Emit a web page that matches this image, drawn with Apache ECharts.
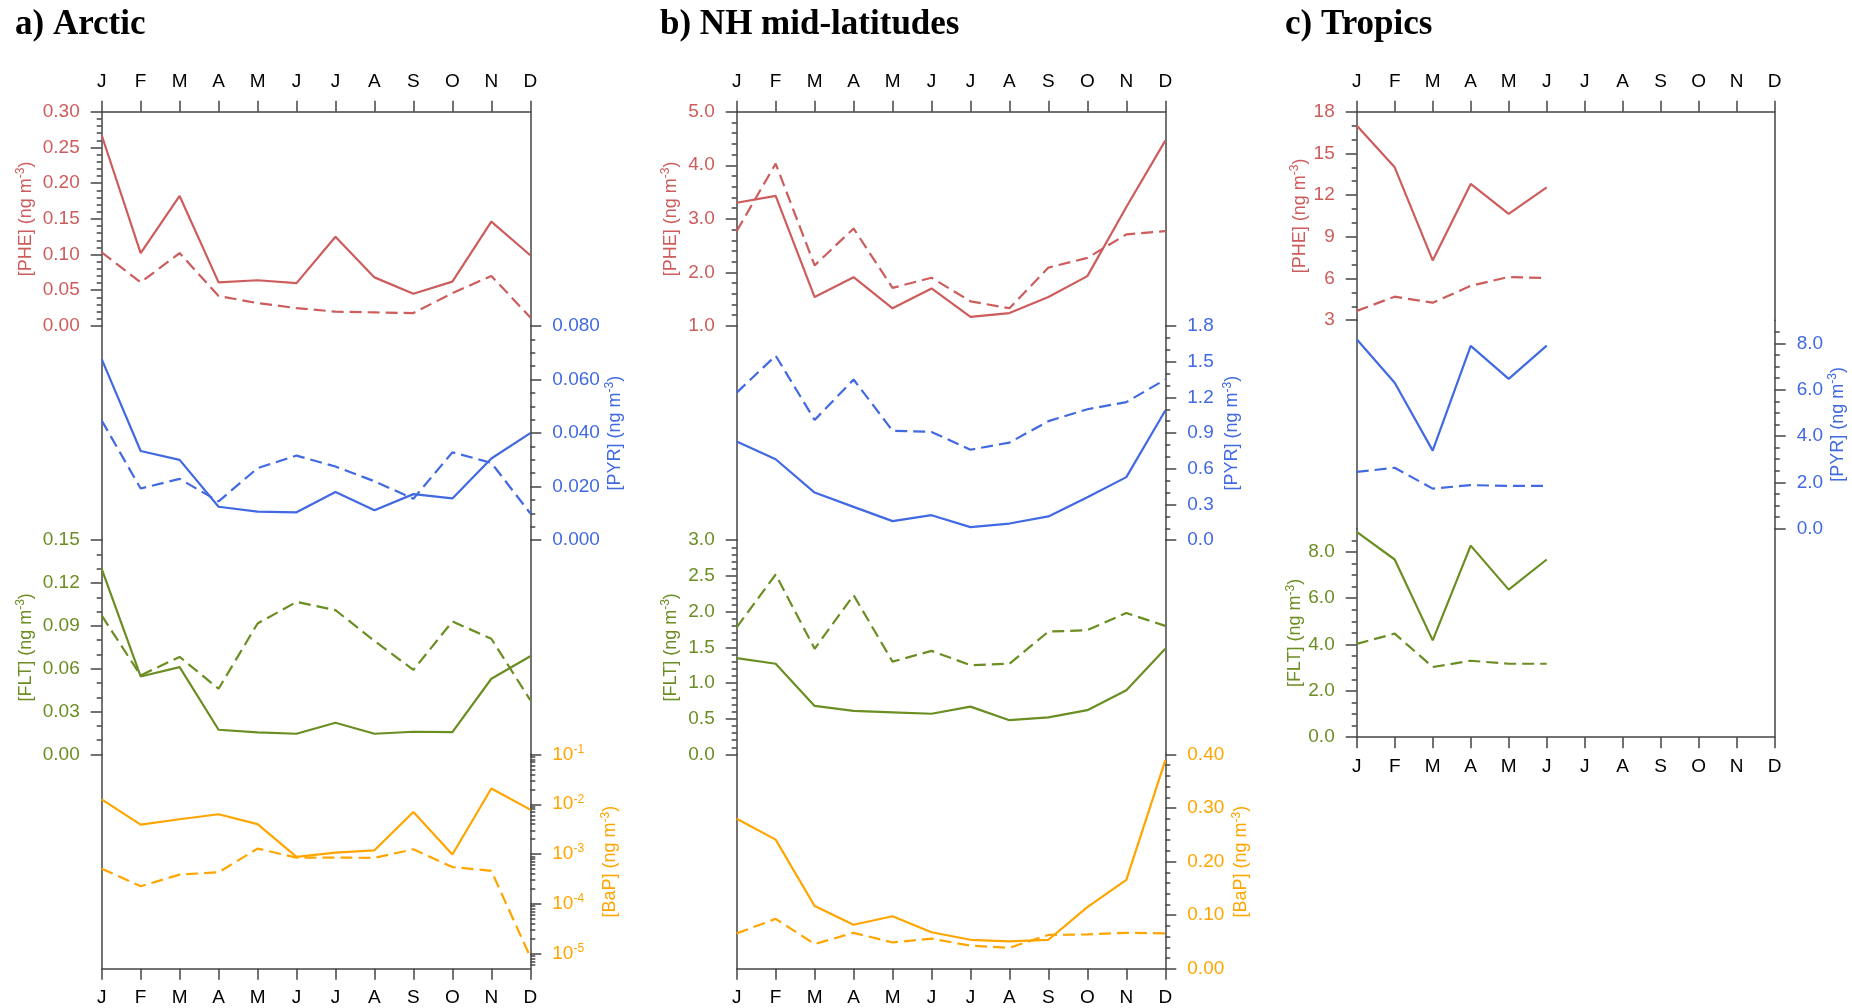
<!DOCTYPE html>
<html><head><meta charset="utf-8">
<script src="https://cdn.jsdelivr.net/npm/echarts@6/dist/echarts.min.js"></script>
<style>html,body{margin:0;padding:0;background:#fff}#c{width:1852px;height:1008px}</style>
</head><body><div id="c"></div>
<script>
// ---------- data ----------
const months = ['J','F','M','A','M','J','J','A','S','O','N','D'];

// a) Arctic
const a_phe_solid  = [0.267,0.102,0.182,0.061,0.064,0.060,0.125,0.068,0.045,0.062,0.146,0.099];
const a_phe_dashed = [0.103,0.061,0.102,0.042,0.032,0.025,0.020,0.019,0.018,0.046,0.070,0.012];
const a_pyr_solid  = [0.0676,0.0333,0.0300,0.0125,0.0107,0.0104,0.0180,0.0112,0.0172,0.0156,0.0305,0.0400];
const a_pyr_dashed = [0.0447,0.0193,0.0229,0.0145,0.0269,0.0316,0.0275,0.0220,0.0155,0.0328,0.0289,0.0100];
const a_flt_solid  = [0.130,0.0546,0.0611,0.0173,0.0154,0.0145,0.0222,0.0145,0.0159,0.0156,0.053,0.0688];
const a_flt_dashed = [0.0973,0.0553,0.0683,0.046,0.0917,0.1068,0.101,0.0795,0.0592,0.0931,0.081,0.038];
const a_bap_solid  = [0.0125,0.0039,0.0050,0.0063,0.0040,0.00088,0.00107,0.00119,0.0070,0.00098,0.0207,0.0078];
const a_bap_dashed = [0.00051,0.000226,0.000387,0.000431,0.00129,0.00085,0.00085,0.00084,0.00125,0.00055,0.00046,0.0000086];

// b) NH mid-latitudes
const b_phe_solid  = [3.30,3.43,1.54,1.91,1.33,1.70,1.17,1.24,1.54,1.93,3.22,4.46];
const b_phe_dashed = [2.77,4.03,2.13,2.82,1.71,1.90,1.46,1.33,2.09,2.27,2.71,2.77];
const b_pyr_solid  = [0.83,0.68,0.40,0.28,0.16,0.21,0.11,0.14,0.20,0.36,0.53,1.09];
const b_pyr_dashed = [1.24,1.55,1.01,1.35,0.92,0.91,0.76,0.82,1.00,1.10,1.16,1.35];
const b_flt_solid  = [1.35,1.27,0.68,0.61,0.59,0.57,0.67,0.48,0.52,0.62,0.90,1.48];
const b_flt_dashed = [1.78,2.52,1.48,2.23,1.30,1.45,1.25,1.27,1.72,1.74,1.98,1.80];
const b_bap_solid  = [0.280,0.241,0.117,0.082,0.098,0.068,0.054,0.051,0.054,0.115,0.166,0.389];
const b_bap_dashed = [0.066,0.093,0.046,0.067,0.049,0.056,0.043,0.039,0.063,0.064,0.067,0.066];

// c) Tropics (January - June only)
const c_phe_solid  = [17.0,14.0,7.3,12.8,10.65,12.55];
const c_phe_dashed = [3.67,4.69,4.26,5.47,6.11,6.03];
const c_pyr_solid  = [8.18,6.30,3.37,7.89,6.47,7.90];
const c_pyr_dashed = [2.45,2.63,1.73,1.88,1.85,1.85];
const c_flt_solid  = [8.86,7.67,4.18,8.27,6.37,7.67];
const c_flt_dashed = [4.03,4.47,3.03,3.30,3.17,3.17];

// tick values
const bapMajorTicks = [1e-5,1e-4,1e-3,1e-2,1e-1];
const bapMinorTicks = [];
[-6,-5,-4,-3,-2].forEach(e => { for (let k = 2; k <= 9; k++) bapMinorTicks.push(k * Math.pow(10, e)); });
const tropicsPyrTicks = [0,2,4,6,8];
const tropicsFltTicks = [0,2,4,6,8];

// ---------- styling ----------
const C_PHE = '#cd5c5c', C_PYR = '#4169e1', C_FLT = '#6b8e23', C_BAP = '#ffa500';
const SANS = '"Liberation Sans", Arial, Helvetica, sans-serif';
const SERIF = '"Liberation Serif", "Times New Roman", serif';
const AXS = {color:'#444', width:1.5};
const DASH = [12,6];
const FS = 19;

const panels = [
  {title:'a) Arctic', titleLeft:15, left:101.7, width:428.6, top:111.7, bandH:214.25, bands:[
    {name:'PHE', color:C_PHE, side:'left',  min:0, max:0.30, interval:0.05, minor:5, dec:2, gap:65, solid:a_phe_solid, dashed:a_phe_dashed},
    {name:'PYR', color:C_PYR, side:'right', min:0, max:0.08, interval:0.02, minor:4, dec:3, gap:72, solid:a_pyr_solid, dashed:a_pyr_dashed},
    {name:'FLT', color:C_FLT, side:'left',  min:0, max:0.15, interval:0.03, minor:3, dec:2, gap:65, solid:a_flt_solid, dashed:a_flt_dashed},
    {name:'BaP', color:C_BAP, side:'right', log:true, min:5e-6, max:0.1, gap:69, solid:a_bap_solid, dashed:a_bap_dashed}
  ]},
  {title:'b) NH mid-latitudes', titleLeft:660, left:736.7, width:428.6, top:111.7, bandH:214.25, bands:[
    {name:'PHE', color:C_PHE, side:'left',  min:1, max:5, interval:1, minor:5, dec:1, gap:55, solid:b_phe_solid, dashed:b_phe_dashed},
    {name:'PYR', color:C_PYR, side:'right', min:0, max:1.8, interval:0.3, minor:3, dec:1, gap:56, solid:b_pyr_solid, dashed:b_pyr_dashed},
    {name:'FLT', color:C_FLT, side:'left',  min:0, max:3, interval:0.5, minor:5, dec:1, gap:55, solid:b_flt_solid, dashed:b_flt_dashed},
    {name:'BaP', color:C_BAP, side:'right', min:0, max:0.4, interval:0.1, minor:5, dec:2, gap:65, solid:b_bap_solid, dashed:b_bap_dashed}
  ]},
  {title:'c) Tropics', titleLeft:1285, left:1356.7, width:418, top:111.7, bandH:208.5, bands:[
    {name:'PHE', color:C_PHE, side:'left',  min:3, max:18, interval:3, minor:3, dec:0, gap:46, solid:c_phe_solid, dashed:c_phe_dashed},
    {name:'PYR', color:C_PYR, side:'right', min:0, max:9, interval:2, minor:4, dec:1, gap:52, ticks:tropicsPyrTicks, hideMax:true, solid:c_pyr_solid, dashed:c_pyr_dashed},
    {name:'FLT', color:C_FLT, side:'left',  min:0, max:9, interval:2, minor:4, dec:1, gap:49, ticks:tropicsFltTicks, hideMax:true, solid:c_flt_solid, dashed:c_flt_dashed}
  ]}
];

const option = {animation:false, backgroundColor:'#fff', title:[], grid:[], xAxis:[], yAxis:[], series:[]};

panels.forEach(p => {
  option.title.push({text:p.title, left:p.titleLeft, top:7, padding:0,
    textStyle:{fontFamily:SERIF, fontWeight:'bold', fontSize:35, color:'#000'}});
  const nb = p.bands.length;
  p.bands.forEach((b, bi) => {
    const gi = option.grid.length;
    option.grid.push({left:p.left, top:p.top + bi*p.bandH, width:p.width, height:p.bandH,
      containLabel:false, outerBoundsMode:'none'});
    const isTop = bi === 0, isBot = bi === nb - 1;
    const xi = option.xAxis.length;
    option.xAxis.push({gridIndex:gi, type:'category', data:months, boundaryGap:false,
      position:isTop ? 'top' : 'bottom', show:isTop || isBot,
      axisLine:{show:true, onZero:false, lineStyle:AXS},
      axisTick:{show:true, inside:false, length:11, interval:0, lineStyle:AXS},
      axisLabel:{show:true, interval:0, margin:20, color:'#000', fontSize:FS, fontFamily:SANS},
      splitLine:{show:false}});
    const other = b.side === 'left' ? 'right' : 'left';
    // frame line on the opposite side
    option.yAxis.push({gridIndex:gi, type:'value', position:other, min:0, max:1,
      axisLine:{show:true, onZero:false, lineStyle:AXS}, axisTick:{show:false},
      axisLabel:{show:false}, splitLine:{show:false}});
    const yi = option.yAxis.length;
    const supStyle = {fontSize:12, color:b.color, fontFamily:SANS, padding:[0,0,10,0]};
    const ya = {gridIndex:gi, type:b.log ? 'log' : 'value', position:b.side, min:b.min, max:b.max,
      axisLine:{show:true, onZero:false, lineStyle:AXS},
      axisTick:{show:true, inside:false, length:11, lineStyle:AXS},
      minorTick:{show:!b.log, splitNumber:b.minor || 5, length:5, lineStyle:AXS},
      axisLabel:{color:b.color, fontSize:FS, fontFamily:SANS, margin:22,
        showMinLabel: b.log ? false : true, showMaxLabel: b.hideMax ? false : true,
        rich:{sup:supStyle},
        formatter: b.log
          ? (v => '10{sup|' + Math.round(Math.log10(v)) + '}')
          : (v => Number(v).toFixed(b.dec))},
      splitLine:{show:false},
      name:'[' + b.name + '] (ng m{sup|-3})', nameLocation:'middle', nameRotate:90, nameGap:b.gap,
      nameTextStyle:{color:b.color, fontSize:18, fontFamily:SANS, rich:{sup:supStyle}}};
    if (b.log) { ya.logBase = 10; }
    else { ya.interval = b.interval; }
    if (b.ticks) ya.axisTick.customValues = b.ticks;
    option.yAxis.push(ya);
    if (b.log) {
      option.yAxis.push({gridIndex:gi, type:'log', logBase:10, position:b.side, min:b.min, max:b.max,
        axisLine:{show:false}, axisLabel:{show:false}, splitLine:{show:false},
        axisTick:{show:true, inside:false, length:5, lineStyle:AXS, customValues:bapMinorTicks}});
    }
    option.series.push({type:'line', xAxisIndex:xi, yAxisIndex:yi, data:b.solid,
      showSymbol:false, symbol:'none', silent:true, z:3,
      lineStyle:{color:b.color, width:2.2, type:'solid'}, itemStyle:{color:b.color}});
    option.series.push({type:'line', xAxisIndex:xi, yAxisIndex:yi, data:b.dashed,
      showSymbol:false, symbol:'none', silent:true, z:3,
      lineStyle:{color:b.color, width:2.2, type:DASH}, itemStyle:{color:b.color}});
  });
});

const chart = echarts.init(document.getElementById('c'), null, {renderer:'canvas'});
chart.setOption(option);
</script>
</body></html>
